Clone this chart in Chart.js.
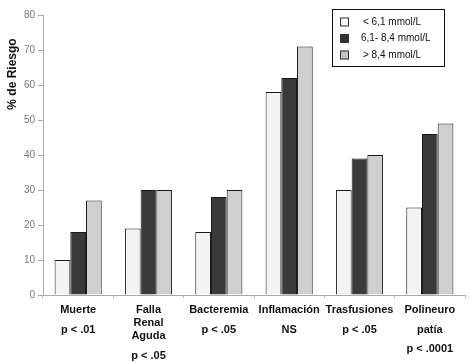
<!DOCTYPE html>
<html>
<head>
<meta charset="utf-8">
<script src="https://cdn.jsdelivr.net/npm/chart.js@4"></script>
<style>
  html, body { margin: 0; padding: 0; background: #fff; }
  #wrap { width: 470px; height: 362px; position: relative; }
</style>
</head>
<body>
<div id="wrap"><canvas id="chart"></canvas></div>
<script>
  // Categories (empty strings space the lines like the original figure)
  const categories = [
    ['Muerte', '', '', 'p < .01'],
    ['Falla', '', 'Renal', '', 'Aguda', '', '', 'p < .05'],
    ['Bacteremia', '', '', 'p < .05'],
    ['Inflamación', '', '', 'NS'],
    ['Trasfusiones', '', '', 'p < .05'],
    ['Polineuro', '', '', 'patía', '', '', 'p < .0001']
  ];

  const seriesLabels = ['< 6,1 mmol/L', '6,1- 8,4 mmol/L', '> 8,4 mmol/L'];
  const lowGlucose = [10, 19, 18, 58, 30, 25];
  const midGlucose = [18, 30, 28, 62, 39, 46];
  const highGlucose = [27, 30, 30, 71, 40, 49];

  const yTicks = [0, 10, 20, 30, 40, 50, 60, 70, 80];

  const fills = ['#f3f3f3', '#3a3a3a', '#cfcfcf'];
  const legendFills = ['#f8f8f8', '#333333', '#c4c4c4'];

  // Boxed legend drawn inside the plot, top right
  const boxedLegend = {
    id: 'boxedLegend',
    afterDraw(chart) {
      const ctx = chart.ctx;
      const x0 = 332, y0 = 9, w = 112, h = 57;
      ctx.save();
      ctx.fillStyle = '#fff';
      ctx.fillRect(x0, y0, w, h);
      ctx.strokeStyle = '#111';
      ctx.lineWidth = 1;
      ctx.strokeRect(x0 + 0.5, y0 + 0.5, w, h);
      ctx.font = '10px "Liberation Sans", Arial, sans-serif';
      ctx.textBaseline = 'middle';
      chart.data.datasets.forEach((ds, i) => {
        const cy = y0 + 13 + i * 16.5;
        ctx.fillStyle = legendFills[i];
        ctx.fillRect(340, cy - 4.5, 9, 9);
        ctx.strokeStyle = '#333';
        ctx.strokeRect(340.5, cy - 4, 8, 8);
        ctx.fillStyle = '#111';
        ctx.fillText(ds.label, i === 1 ? 361 : 363, cy);
      });
      ctx.restore();
    }
  };

  new Chart(document.getElementById('chart'), {
    type: 'bar',
    data: {
      labels: categories,
      datasets: [
        { label: seriesLabels[0], data: lowGlucose, backgroundColor: fills[0] },
        { label: seriesLabels[1], data: midGlucose, backgroundColor: fills[1] },
        { label: seriesLabels[2], data: highGlucose, backgroundColor: fills[2] }
      ].map(ds => Object.assign(ds, {
        borderColor: '#1a1a1a',
        borderWidth: 1,
        barPercentage: 1.0,
        categoryPercentage: 0.67
      }))
    },
    options: {
      responsive: true,
      maintainAspectRatio: false,
      animation: false,
      layout: { padding: { top: 15, right: 5, left: 0, bottom: 0 } },
      plugins: {
        legend: { display: false },
        tooltip: { enabled: false }
      },
      scales: {
        x: {
          afterFit(scale) { scale.height = 67; },
          grid: {
            display: true,
            drawOnChartArea: false,
            tickLength: 3,
            color: '#bbb',
            offset: true
          },
          border: { color: '#aaa' },
          ticks: {
            autoSkip: false,
            maxRotation: 0,
            padding: 9,
            color: '#111',
            font: { family: '"Liberation Sans", Arial, sans-serif', size: 11, weight: 'bold', lineHeight: '6.5px' }
          }
        },
        y: {
          min: 0,
          max: 80,
          afterFit(scale) { scale.width = 43; },
          afterBuildTicks(scale) { scale.ticks = yTicks.map(v => ({ value: v })); },
          grid: {
            display: true,
            drawOnChartArea: false,
            tickLength: 5,
            color: '#aaa'
          },
          border: { color: '#aaa' },
          ticks: {
            padding: 3,
            color: '#777',
            font: { family: '"Liberation Sans", Arial, sans-serif', size: 10 }
          },
          title: {
            display: true,
            text: '% de Riesgo' + '\u00a0'.repeat(7),
            align: 'end',
            color: '#111',
            padding: { top: 5, bottom: 0 },
            font: { family: '"Liberation Sans", Arial, sans-serif', size: 12, weight: 'bold' }
          }
        }
      }
    },
    plugins: [boxedLegend]
  });
</script>
</body>
</html>
